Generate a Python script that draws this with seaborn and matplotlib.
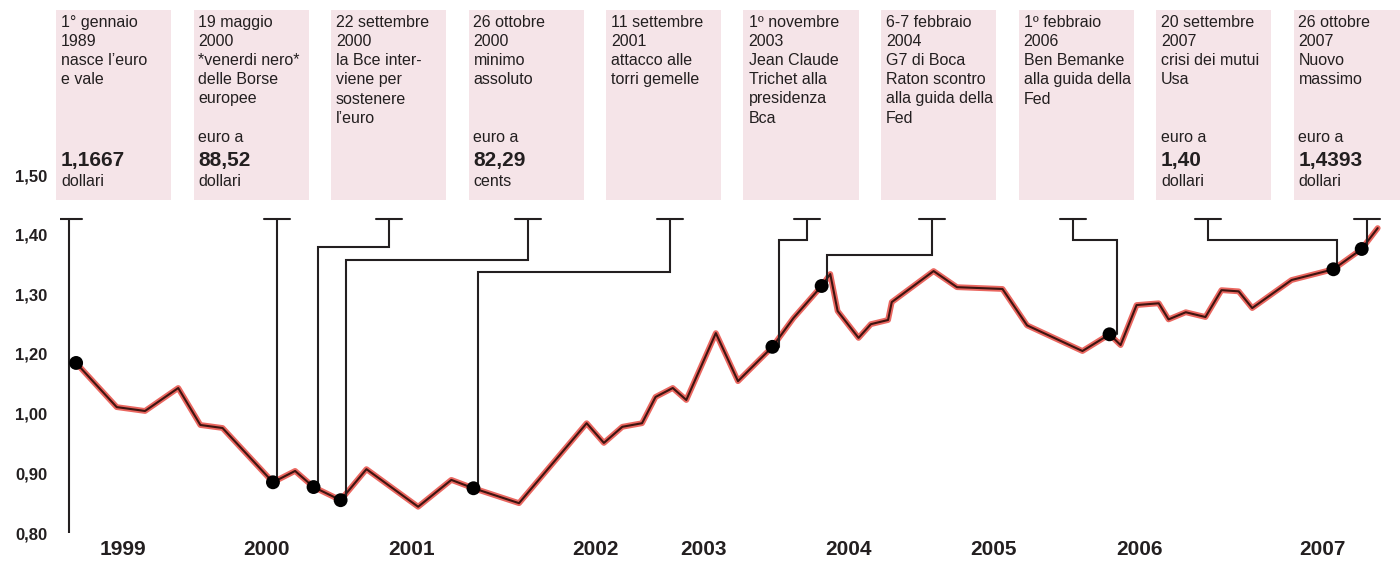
import matplotlib.pyplot as plt
import matplotlib.patches as mpatches
import numpy as np
import seaborn as sns

# cambio euro/dollaro: x = mesi dall'1 gennaio 1999, y = dollari per euro
months = [0.5, 3.8, 6.1, 8.8, 10.6, 12.4, 16.5, 18.3, 19.8, 22.0, 24.1, 28.3, 31.0, 32.8,
          36.5, 42.0, 43.4, 44.9, 46.5, 47.6, 49.0, 50.1, 52.5, 54.3, 57.1, 58.8, 61.1,
          61.8, 62.4, 64.1, 65.1, 66.5, 66.8, 70.2, 72.1, 75.8, 77.8, 82.3, 84.5, 85.4,
          86.7, 88.5, 89.3, 90.7, 92.3, 93.6, 95.0, 96.1, 99.3, 102.7, 105.0, 106.3]
rates = [1.170, 1.022, 1.009, 1.086, 0.981, 0.976, 0.885, 0.904, 0.877, 0.855, 0.907,
         0.844, 0.889, 0.875, 0.850, 0.984, 0.951, 0.978, 0.984, 1.056, 1.086, 1.046,
         1.235, 1.109, 1.212, 1.260, 1.314, 1.334, 1.272, 1.227, 1.250, 1.257, 1.287,
         1.339, 1.312, 1.309, 1.248, 1.205, 1.233, 1.215, 1.282, 1.285, 1.258, 1.270,
         1.262, 1.307, 1.305, 1.277, 1.324, 1.342, 1.376, 1.411]

# eventi evidenziati sulla curva
event_months = [0.5, 16.5, 19.8, 22.0, 32.8, 57.1, 61.1, 84.5, 102.7, 105.0]
event_rates = [1.170, 0.885, 0.877, 0.855, 0.875, 1.212, 1.314, 1.233, 1.342, 1.376]

y_ticks = [0.80, 0.90, 1.00, 1.20, 1.30, 1.40, 1.50]
y_labels = ["0,80", "0,90", "1,00", "1,20", "1,30", "1,40", "1,50"]
year_pos = [4.3, 16.0, 27.8, 42.7, 51.5, 63.3, 75.1, 86.9, 101.8]
year_labels = ["1999", "2000", "2001", "2002", "2003", "2004", "2005", "2006", "2007"]

box_lines = [
    ["1° gennaio", "1989", "nasce l’euro", "e vale"],
    ["19 maggio", "2000", "*venerdi nero*", "delle Borse", "europee"],
    ["22 settembre", "2000", "la Bce inter-", "viene per", "sostenere", "l’euro"],
    ["26 ottobre", "2000", "minimo", "assoluto"],
    ["11 settembre", "2001", "attacco alle", "torri gemelle"],
    ["1º novembre", "2003", "Jean Claude", "Trichet alla", "presidenza", "Bca"],
    ["6-7 febbraio", "2004", "G7 di Boca", "Raton scontro", "alla guida della", "Fed"],
    ["1º febbraio", "2006", "Ben Bemanke", "alla guida della", "Fed"],
    ["20 settembre", "2007", "crisi dei mutui", "Usa"],
    ["26 ottobre", "2007", "Nuovo", "massimo"],
]
box_pre = [None, "euro a", None, "euro a", None, None, None, None, "euro a", "euro a"]
box_value = ["1,1667", "88,52", None, "82,29", None, None, None, None, "1,40", "1,4393"]
box_unit = ["dollari", "dollari", None, "cents", None, None, None, None, "dollari", "dollari"]

# linee di richiamo: x del "T", quota del gomito, x della discesa, quota finale
leaders = [(-0.1, None, -0.1, 0.80), (16.8, None, 16.8, 0.885), (25.9, 1.379, 20.2, 0.877),
           (37.2, 1.357, 22.4, 0.855), (48.8, 1.337, 33.2, 0.875), (59.9, 1.391, 57.6, 1.212),
           (70.1, 1.366, 61.5, 1.314), (81.5, 1.391, 85.1, 1.233), (92.5, 1.391, 103.0, 1.342),
           (105.4, None, 105.4, 1.376)]
cap_y = 1.426

sns.set_theme(style="white")
plt.rcParams['font.family'] = ['Liberation Sans', 'DejaVu Sans']
ink = "#231f20"

fig = plt.figure(figsize=(14, 5.61), dpi=100)
ax = fig.add_axes([60 / 1400, 28 / 561, 1330 / 1400, 358 / 561])

# scala verticale non lineare come nel grafico originale (tacche equidistanti)
pos = np.arange(len(y_ticks))
ax.set_yscale('function', functions=(lambda v: np.interp(v, y_ticks, pos),
                                     lambda u: np.interp(u, pos, y_ticks)))
ax.set_ylim(0.80, 1.50)
ax.set_xlim(-0.81, 107.3)

sns.lineplot(x=months, y=rates, ax=ax, color="#e3342b", linewidth=4.2, alpha=0.75, sort=False)
sns.lineplot(x=months, y=rates, ax=ax, color="#3e1410", linewidth=1.5, sort=False)

for cx, ey, dx, end in leaders:
    if ey is None:
        xs, ys = [cx, cx], [cap_y, end]
    else:
        xs, ys = [cx, cx, dx, dx], [cap_y, ey, ey, end]
    ax.plot(xs, ys, color=ink, lw=1.5, solid_joinstyle='miter', zorder=3)
    ax.plot([cx - 1.06, cx + 1.06], [cap_y, cap_y], color=ink, lw=1.5, zorder=3)

sns.scatterplot(x=event_months, y=event_rates, ax=ax, color="black", s=100,
                edgecolor="none", zorder=4)

ax.set_yticks(y_ticks)
ax.set_yticklabels(y_labels, fontsize=12, fontweight='bold', color=ink)
ax.set_xticks(year_pos)
ax.set_xticklabels(year_labels, fontsize=15, fontweight='bold', color=ink)
ax.tick_params(axis='y', length=0, pad=9)
ax.tick_params(axis='x', length=0, pad=5)
ax.minorticks_off()
for s in ax.spines.values():
    s.set_visible(False)
ax.set_xlabel("")
ax.set_ylabel("")

# riquadri rosa con le didascalie
H = 561
for i, lines in enumerate(box_lines):
    left = 56 + 137.5 * i
    fig.patches.append(mpatches.Rectangle((left / 1400, 1 - 200 / H), 115 / 1400, 190 / H,
                                          transform=fig.transFigure, facecolor="#f5e4e8",
                                          edgecolor="none", zorder=0))
    tx = (left + 5) / 1400
    for k, line in enumerate(lines):
        fig.text(tx, 1 - (26.7 + 19.2 * k) / H, line, fontsize=11.5, color=ink,
                 va='baseline', ha='left')
    if box_pre[i]:
        fig.text(tx, 1 - 141.7 / H, box_pre[i], fontsize=11.5, color=ink, va='baseline')
    if box_value[i]:
        fig.text(tx, 1 - 165.7 / H, box_value[i], fontsize=15, fontweight='bold',
                 color=ink, va='baseline')
    if box_unit[i]:
        fig.text(tx, 1 - 186 / H, box_unit[i], fontsize=11.5, color=ink, va='baseline')

fig.savefig("out.png", dpi=100, facecolor="white")
